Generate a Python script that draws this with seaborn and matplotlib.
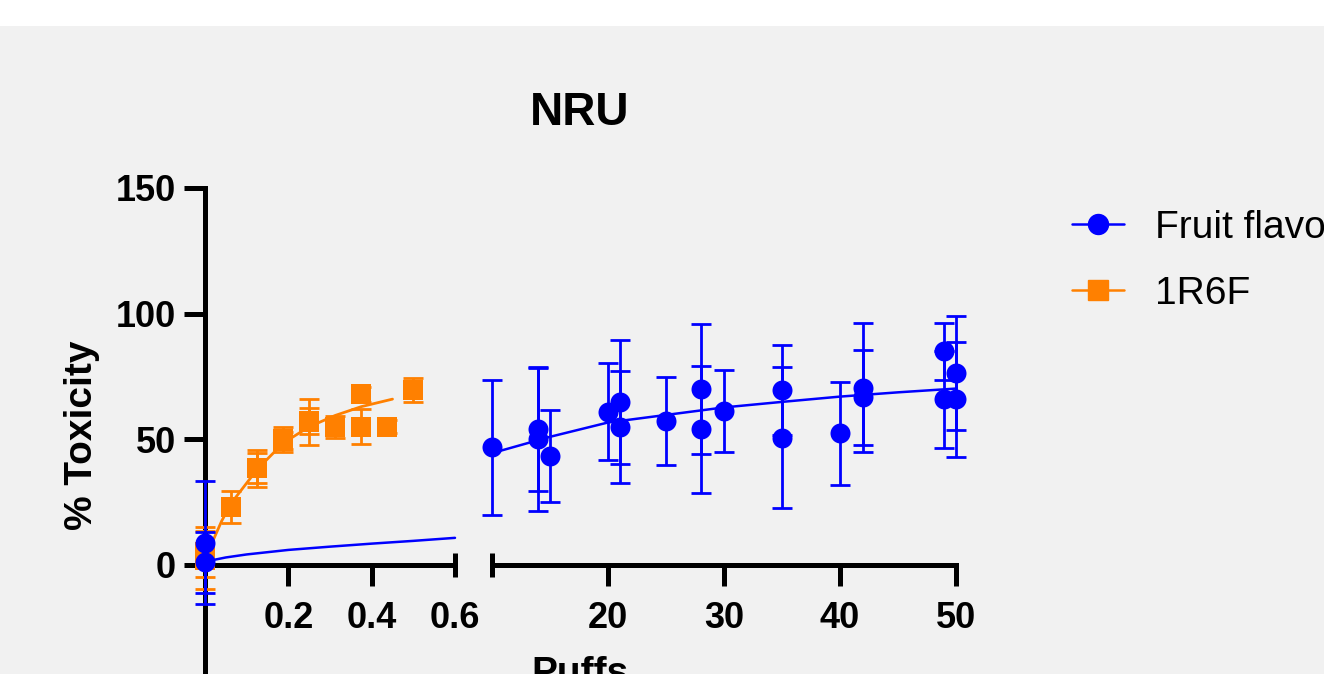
import numpy as np
import pandas as pd
import matplotlib
matplotlib.use("Agg")
import matplotlib.pyplot as plt
import seaborn as sns
from matplotlib.lines import Line2D
from matplotlib.patches import Rectangle

# ---------------- data ----------------
series_names = ["Fruit flavor", "1R6F"]
blue_color = "#0000FF"
orange_color = "#FF8000"

# 1R6F (squares)
orange_x = [0, 0, 0.0625, 0.125, 0.125, 0.1875, 0.1875, 0.25, 0.25, 0.3125, 0.375, 0.375, 0.4375, 0.5]
orange_y = [5.2, 2.0, 23.0, 38.4, 38.6, 50.0, 49.5, 57.0, 57.3, 54.9, 68.0, 55.0, 55.0, 69.6]
orange_sd = [9.9, 11.7, 6.3, 7.3, 5.9, 5.1, 3.5, 9.2, 5.3, 4.3, 3.0, 7.0, 2.5, 4.8]

# Fruit flavor (circles)
blue_x = [0, 0, 10, 14, 14, 15, 20, 21, 21, 25, 28, 28, 30, 35, 35, 40, 42, 42, 49, 49, 50, 50]
blue_y = [8.8, 1.0, 46.9, 54.0, 50.0, 43.3, 61.0, 64.9, 55.0, 57.3, 70.0, 54.0, 61.4, 69.7, 50.7,
          52.4, 70.6, 66.7, 85.0, 66.0, 76.4, 66.0]
blue_sd = [24.5, 12.3, 26.9, 24.7, 28.4, 18.3, 19.4, 24.6, 22.3, 17.7, 25.7, 25.3, 16.3, 18.0, 28.2,
           20.5, 25.7, 18.8, 11.3, 19.3, 22.7, 22.9]

# fitted curves
orange_fit_x = [0, 0.02, 0.04, 0.0625, 0.125, 0.1875, 0.25, 0.3125, 0.375, 0.45]
orange_fit_y = [3.0, 10.0, 17.5, 24.5, 38.0, 48.5, 55.0, 59.5, 63.0, 66.0]
blue_fit_left_x = [0, 0.02, 0.05, 0.1, 0.2, 0.3, 0.4, 0.5, 0.6]
blue_fit_left_y = [0.5, 2.0, 3.0, 4.2, 6.0, 7.3, 8.5, 9.6, 10.8]
blue_fit_right_x = [10, 15, 20, 25, 30, 35, 40, 45, 50]
blue_fit_right_y = [44.5, 51.0, 56.7, 59.7, 62.7, 64.9, 67.0, 68.7, 70.2]

left_ticks = [0.2, 0.4]
left_break_tick = [0.6]
right_ticks = [20, 30, 40, 50]
right_break_tick = [10]
y_ticks = [0, 50, 100, 150]

# ---------------- style ----------------
sns.set_theme(style="ticks")
plt.rcParams["font.family"] = ["Liberation Sans", "DejaVu Sans"]
plt.rcParams["font.weight"] = "bold"
plt.rcParams["text.color"] = "black"
plt.rcParams["axes.labelcolor"] = "black"
plt.rcParams["xtick.color"] = "black"
plt.rcParams["ytick.color"] = "black"

BG = "#F1F1F1"
W, H = 1324, 674
fig = plt.figure(figsize=(W / 100, H / 100), dpi=100, facecolor=BG)
fig.patches.append(Rectangle((0, 1 - 26 / H), 1, 26 / H, transform=fig.transFigure,
                             facecolor="white", edgecolor="none", zorder=0))

Y0, Y150 = 565.0, 188.0
ppu = (Y0 - Y150) / 150.0
YBOT = Y0 + 50 * ppu


def box(x0, x1):
    return [x0 / W, 1 - YBOT / H, (x1 - x0) / W, (YBOT - Y150) / H]


axL = fig.add_axes(box(205, 455))
axR = fig.add_axes(box(492, 956))

SPW = 3.6
TL = 15
XPAD = 11
for ax in (axL, axR):
    ax.set_facecolor("none")
    ax.set_ylim(-50, 150)
    ax.spines["top"].set_visible(False)
    ax.spines["right"].set_visible(False)
    ax.spines["bottom"].set_position(("data", 0))
    for s in ax.spines.values():
        s.set_linewidth(SPW)
        s.set_color("black")
    ax.tick_params(axis="both", which="major", direction="out", length=TL, width=SPW,
                   color="black", labelsize=26, pad=XPAD, labelcolor="black")
    ax.tick_params(axis="x", which="minor", direction="inout", length=17, width=SPW,
                   color="black", labelsize=26, pad=XPAD + TL - 8.5, labelcolor="black")

axL.set_xlim(0, 0.6)
axR.set_xlim(10, 50)
axR.spines["left"].set_visible(False)
axR.tick_params(axis="y", which="both", left=False, labelleft=False)
axL.set_yticks(y_ticks)
axL.tick_params(axis="y", pad=6)
axR.set_yticks([])
axL.set_xticks(left_ticks, [f"{t:g}" for t in left_ticks])
axL.set_xticks(left_break_tick, [f"{t:g}" for t in left_break_tick], minor=True)
axR.set_xticks(right_ticks, [f"{t:g}" for t in right_ticks])
axR.set_xticks(right_break_tick, [""], minor=True)
for ax in (axL, axR):
    for lab in ax.get_xticklabels(which="both") + ax.get_yticklabels():
        lab.set_fontweight("bold")

df_o = pd.DataFrame({"x": orange_x, "y": orange_y, "sd": orange_sd})
df_b = pd.DataFrame({"x": blue_x, "y": blue_y, "sd": blue_sd})

eb_kw = dict(fmt="none", elinewidth=2.0, capsize=7.2, capthick=2.0, clip_on=False)

# left segment
axL.errorbar(df_o["x"], df_o["y"], yerr=df_o["sd"], ecolor=orange_color, zorder=3, **eb_kw)
sns.scatterplot(data=df_o, x="x", y="y", ax=axL, marker="s", s=225, color=orange_color,
                linewidth=0, clip_on=False, zorder=4, legend=False)
sns.lineplot(x=orange_fit_x, y=orange_fit_y, ax=axL, color=orange_color, linewidth=2.0,
             estimator=None, sort=False, zorder=4)
bl = df_b[df_b["x"] < 1]
axL.errorbar(bl["x"], bl["y"], yerr=bl["sd"], ecolor=blue_color, zorder=5, **eb_kw)
sns.lineplot(x=blue_fit_left_x, y=blue_fit_left_y, ax=axL, color=blue_color, linewidth=1.8,
             estimator=None, sort=False, zorder=6)
sns.scatterplot(data=bl, x="x", y="y", ax=axL, marker="o", s=207, color=blue_color,
                linewidth=0, clip_on=False, zorder=7, legend=False)

# right segment
br = df_b[df_b["x"] >= 1]
axR.errorbar(br["x"], br["y"], yerr=br["sd"], ecolor=blue_color, zorder=5, **eb_kw)
sns.lineplot(x=blue_fit_right_x, y=blue_fit_right_y, ax=axR, color=blue_color, linewidth=1.8,
             estimator=None, sort=False, zorder=6)
sns.scatterplot(data=br, x="x", y="y", ax=axR, marker="o", s=207, color=blue_color,
                linewidth=0, clip_on=False, zorder=7, legend=False)

for ax in (axL, axR):
    ax.set_xlabel("")
    ax.set_ylabel("")
    for line in ax.lines:
        line.set_clip_on(False)

# texts
fig.text(580 / W, 1 - 125 / H, "NRU", ha="center", va="baseline", fontsize=33,
         fontweight="bold", color="black")
fig.text(92 / W, 1 - 435 / H, "% Toxicity", rotation=90, rotation_mode="anchor",
         ha="center", va="baseline", fontsize=28, fontweight="bold", color="black")
fig.text(580 / W, 1 - 684.5 / H, "Puffs", ha="center", va="baseline", fontsize=28,
         fontweight="bold", color="black")

# legend
handles = [Line2D([], [], color=blue_color, marker="o", markersize=14.4, linewidth=1.8),
           Line2D([], [], color=orange_color, marker="s", markersize=15, linewidth=1.8)]
leg = fig.legend(handles, series_names, loc="upper left", bbox_to_anchor=(1072 / W, 1 - 210 / H),
                 bbox_transform=fig.transFigure, frameon=False, handlelength=1.33,
                 handletextpad=0.8, labelspacing=0.76, borderpad=0, borderaxespad=0,
                 prop={"weight": "normal", "size": 28})
for t in leg.get_texts():
    t.set_color("black")

fig.savefig("out.png", dpi=100, facecolor=BG)
